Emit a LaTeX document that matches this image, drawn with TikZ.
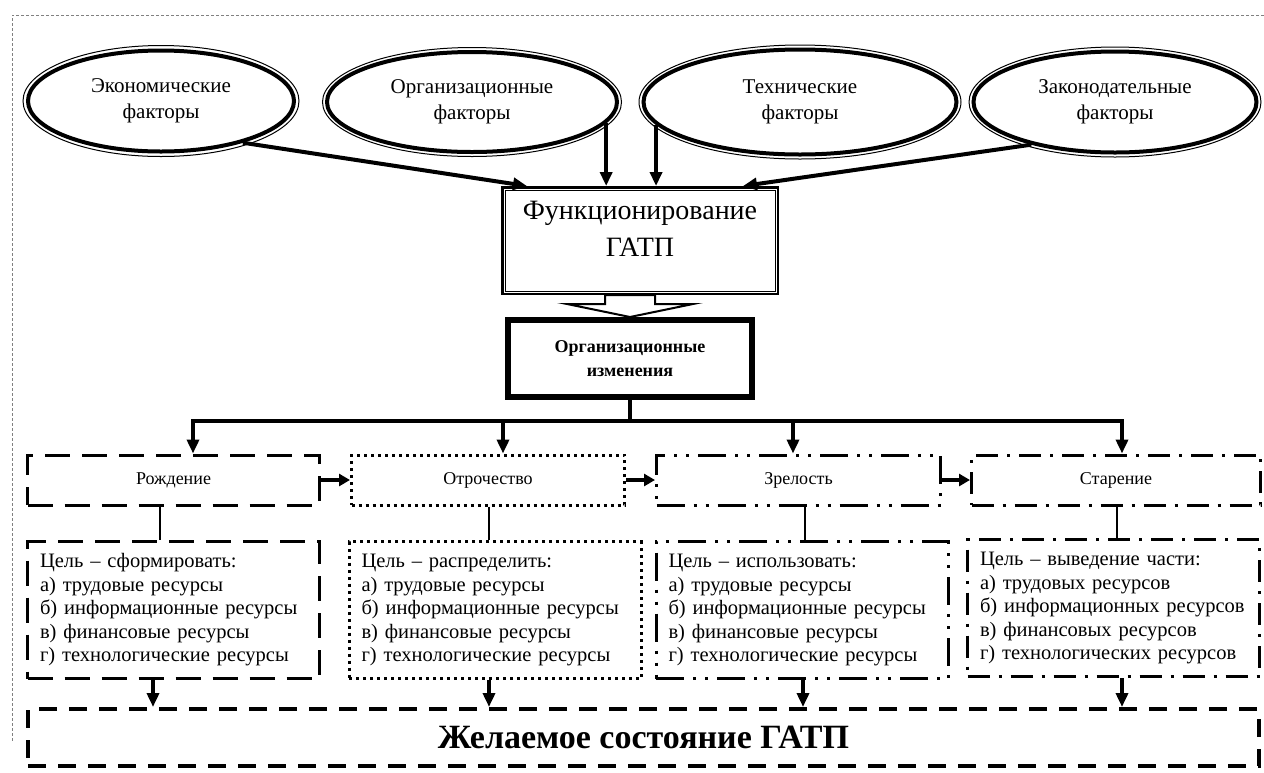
\documentclass[tikz,border=0pt]{standalone}
\usepackage{fontspec}
\setmainfont{Liberation Serif}
\usetikzlibrary{shapes.geometric,arrows.meta,calc}
\begin{document}
\begin{tikzpicture}[x=1pt,y=-1pt,
  fac/.style={ellipse, draw, line width=4pt, inner sep=0pt, align=center, font=\fontsize{21}{26}\selectfont},
  ring/.style={line width=1pt},
  funcbox/.style={draw, line width=2.5pt, minimum width=275.5pt, minimum height=106.5pt, inner sep=0pt},
  orgbox/.style={draw, line width=6pt, minimum width=244pt, minimum height=77pt, inner sep=0pt, align=center, font=\bfseries\fontsize{18}{24}\selectfont},
  stagebox/.style={draw, line width=3pt, minimum height=50pt, inner sep=0pt, font=\fontsize{18}{22}\selectfont},
  goalbox/.style={draw, line width=3pt, minimum height=137pt, inner xsep=12.5pt, inner ysep=0pt, text width=267pt, align=left, font=\fontsize{20.5}{23.5}\selectfont},
  dsh/.style={dash pattern=on 25pt off 12pt},
  dts/.style={dash pattern=on 3pt off 4pt},
  ddot/.style={dash pattern=on 28pt off 9pt on 3pt off 9pt on 3pt off 9pt},
  dd/.style={dash pattern=on 22pt off 9pt on 3pt off 9pt},
  arr/.style={-{Triangle[length=14pt,width=12pt]}, line width=4pt},
  harr/.style={-{Triangle[length=11pt,width=12pt]}, line width=4pt},
  link/.style={line width=2.5pt},
  frame/.style={gray, line width=0.8pt, dash pattern=on 3pt off 2pt}
]
\useasboundingbox (0,0) rectangle (1264,772);
\draw[frame] (1264,15) -- (12,15) -- (12,742);

% factor ellipses
\node[fac, minimum width=266pt, minimum height=101pt] (e1) at (161,101) {Экономические\\факторы};
\node[fac, minimum width=290pt, minimum height=100pt] (e2) at (472,102) {Организационные\\факторы};
\node[fac, minimum width=313pt, minimum height=105pt] (e3) at (800,102) {Технические\\факторы};
\node[fac, minimum width=283pt, minimum height=101pt] (e4) at (1115,102) {Законодательные\\факторы};
\draw[ring] (e1.center) ellipse [x radius=138, y radius=55.5];
\draw[ring] (e2.center) ellipse [x radius=149.5, y radius=54.5];
\draw[ring] (e3.center) ellipse [x radius=161, y radius=57];
\draw[ring] (e4.center) ellipse [x radius=146, y radius=55];

% functioning box
\node[funcbox] (func) at (640,240.5) {};
\draw[line width=1pt] ([xshift=4pt,yshift=-4pt]func.north west) rectangle ([xshift=-4pt,yshift=4pt]func.south east);
\node[align=center, inner sep=0pt, font=\fontsize{28}{37}\selectfont] (functxt) at (640,229) {Функционирование\\ГАТП};

\draw[arr] (e1.-27) -- ([xshift=26pt]func.north west);
\draw[arr, line width=3.5pt] (e2.-9) -- (e2.-9 |- func.north);
\draw[arr, line width=3.5pt] (e3.189) -- (e3.189 |- func.north);
\draw[arr] (e4.207) -- ([xshift=-36pt]func.north east);

% organisational changes
\node[orgbox] (org) at (630,358.5) {Организационные\\изменения};
\coordinate (hl) at ($(org.north)+(-25,0)$);
\coordinate (hr) at ($(org.north)+(25,0)$);
\draw[line width=2pt, fill=white, line join=miter] (org.north) -- ++(63,-13) -- ($(hr)+(0,-13)$) -- (hr |- func.south) -- (hl |- func.south) -- ($(hl)+(0,-13)$) -- ++(-38,0) -- cycle;

% stages
\node[stagebox, dsh,  minimum width=292pt] (rozh) at (173.5,480) {Рождение};
\node[stagebox, dts,  minimum width=273pt] (otr)  at (488,480) {Отрочество};
\node[stagebox, ddot, minimum width=284pt] (zrel) at (798.5,480) {Зрелость};
\node[stagebox, dd,   minimum width=289pt] (star) at (1116,480) {Старение};

% bus
\coordinate (busy) at (0,421);
\coordinate (d1) at ([xshift=19.5pt]rozh.north);
\coordinate (d2) at ([xshift=15pt]otr.north);
\coordinate (d3) at ([xshift=-5.5pt]zrel.north);
\coordinate (d4) at ([xshift=6pt]star.north);
\draw[line width=4pt] (org.south) -- (org.south |- busy);
\draw[arr] (org.south |- busy) -| (d1);
\draw[arr] (org.south |- busy) -| (d4);
\draw[arr] (d2 |- busy) -- (d2);
\draw[arr] (d3 |- busy) -- (d3);

\draw[harr] (rozh.east) -- (otr.west);
\draw[harr] (otr.east) -- (zrel.west);
\draw[harr] (zrel.east) -- (star.west);

% goals
\node[goalbox, dsh]  (g1) at (173.5,610) {Цель – сформировать:\\а) трудовые ресурсы\\б) информационные ресурсы\\в) финансовые ресурсы\\г) технологические ресурсы};
\node[goalbox, dts]  (g2) at (495,610) {Цель – распределить:\\а) трудовые ресурсы\\б) информационные ресурсы\\в) финансовые ресурсы\\г) технологические ресурсы};
\node[goalbox, ddot] (g3) at (802,610) {Цель – использовать:\\а) трудовые ресурсы\\б) информационные ресурсы\\в) финансовые ресурсы\\г) технологические ресурсы};
\node[goalbox, dd]   (g4) at (1113.5,608) {Цель – выведение части:\\а) трудовых ресурсов\\б) информационных ресурсов\\в) финансовых ресурсов\\г) технологических ресурсов};

\coordinate (c1) at ([xshift=-13.5pt]rozh.south);
\coordinate (c2) at ([xshift=1pt]otr.south);
\coordinate (c3) at ([xshift=6.5pt]zrel.south);
\coordinate (c4) at ([xshift=1pt]star.south);
\draw[link] (c1) -- (c1 |- g1.north);
\draw[link] (c2) -- (c2 |- g2.north);
\draw[link] (c3) -- (c3 |- g3.north);
\draw[link] (c4) -- (c4 |- g4.north);

% final state
\node[draw, line width=4pt, dash pattern=on 18pt off 12pt, minimum width=1231pt, minimum height=57pt, inner sep=0pt, font=\bfseries\fontsize{34}{40}\selectfont] (fin) at (643.5,737.5) {Желаемое состояние ГАТП};

\coordinate (f1) at ([xshift=-20.5pt]g1.south);
\coordinate (f2) at ([xshift=-6pt]g2.south);
\coordinate (f3) at ([xshift=1pt]g3.south);
\coordinate (f4) at ([xshift=8.5pt]g4.south);
\draw[arr] (f1) -- (f1 |- fin.north);
\draw[arr] (f2) -- (f2 |- fin.north);
\draw[arr] (f3) -- (f3 |- fin.north);
\draw[arr] (f4) -- (f4 |- fin.north);
\end{tikzpicture}
\end{document}
